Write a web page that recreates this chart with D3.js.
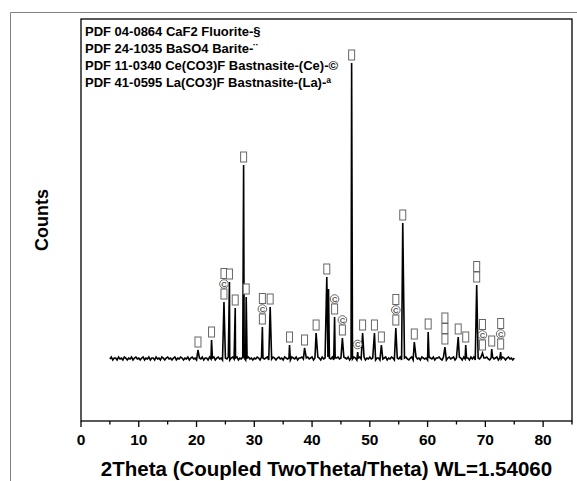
<!DOCTYPE html>
<html><head><meta charset="utf-8">
<script src="https://cdn.jsdelivr.net/npm/d3@7"></script>
<style>body{margin:0;background:#fff}svg{display:block;font-family:"Liberation Sans",Arial,sans-serif}</style>
</head><body><svg id="c" width="577" height="481"></svg>
<script>
// ---- data ----
const xStart = 5, xStep = 0.25;
const noise = [
62,64,61,63,63,61,64,62,63,61,64,63,61,63,62,64,61,63,64,62,
63,61,63,64,61,63,62,64,61,63,63,61,64,62,63,61,64,63,61,63,
64,62,63,61,63,64,61,63,62,64,63,61,63,62,64,61,63,64,62,63,
61,64,63,62,64,61,63,63,61,64,62,63,64,61,63,64,62,63,61,64,
63,62,64,61,63,64,62,63,64,61,63,62,64,63,61,63,64,62,63,61,
63,62,64,63,61,64,63,62,63,64,61,63,62,64,63,61,63,64,62,63,
61,64,63,62,63,61,64,63,62,64,61,63,63,64,62,61,63,64,62,63,
64,61,63,62,64,63,61,64,62,63,61,64,63,62,64,61,63,63,64,62,
63,61,64,63,62,64,61,63,62,64,63,61,63,64,62,63,64,61,63,62,
64,62,63,64,61,63,63,61,64,62,63,64,61,63,62,64,63,61,64,63,
62,64,61,63,63,64,62,61,63,64,61,63,64,62,63,61,64,63,62,63,
61,64,63,62,64,61,63,63,64,62,61,64,63,61,63,64,62,63,64,61,
63,62,64,63,61,64,62,63,63,61,64,62,64,61,63,63,62,64,61,63,
63,64,62,61,63,64,62,63,64,61,63,62,64,63,61,63,64,62,63,61,
63];
const peakPos    = [20.25,22.6,24.75,25.7,26.7,28.15,28.6,31.4,32.75,36.1,38.7,40.7,42.55,42.85,43.9,45.25,46.85,47.9,48.75,50.8,52.0,54.5,55.7,57.7,60.1,63.0,65.3,66.6,68.5,69.5,71.1,72.65];
const peakCounts = [71,81,119,139,113,256,124,94,114,76,73,88,144,132,104,83,358,69,88,88,76,93,198,79,89,74,84,76,136,68,72,69];
const peakMarks  = ["B","B","BCB","B","B","B","B","BCB","B","B","B","B","B","","BC","BC","B","C","B","B","B","BCB","B","B","B","BBB","B","B","BB","BCB","B","BCB"];
const legendLines = [
  "PDF 04-0864 CaF2 Fluorite-§",
  "PDF 24-1035 BaSO4 Barite-¨",
  "PDF 11-0340 Ce(CO3)F Bastnasite-(Ce)-©",
  "PDF 41-0595 La(CO3)F Bastnasite-(La)-ª"
];
const majorTicks = [0,10,20,30,40,50,60,70,80];
const minorTicks = [5,15,25,35,45,55,65,75,85];
const xTitle = "2Theta (Coupled TwoTheta/Theta) WL=1.54060";
const yTitle = "Counts";

// ---- chart ----
const svg = d3.select("#c");
const L = 81, R = 572, T = 19, B = 421;
const x = d3.scaleLinear().domain([0,85]).range([L,R]);
const y = d3.scaleLinear().domain([0,402]).range([B,T]);

// outer frame
svg.append("path").attr("d", `M10.5,481 V12.5 H577`).attr("fill","none").attr("stroke","#808080").attr("stroke-width",1);

// pattern points
const pts = noise.map((v,i)=>({x:xStart+i*xStep, y:v}))
  .filter(p => !peakPos.some(q => Math.abs(q-p.x) < 0.05));
peakPos.forEach((p,i)=>pts.push({x:p, y:peakCounts[i]}));
pts.sort((a,b)=>a.x-b.x);

svg.append("path").datum(pts)
  .attr("d", d3.line().x(d=>x(d.x)).y(d=>y(d.y)))
  .attr("fill","none").attr("stroke","#000").attr("stroke-width",1.6).attr("stroke-linejoin","miter");

// markers
const mg = svg.append("g");
peakPos.forEach((p,i)=>{
  let cur = y(peakCounts[i]) - 2.5;
  const cx = x(p);
  for (const ch of peakMarks[i]) {
    if (ch === "B") {
      mg.append("rect").attr("x", cx-3).attr("y", cur-10.5).attr("width",6).attr("height",10)
        .attr("fill","#fff").attr("stroke","#666").attr("stroke-width",1);
      cur -= 10.5;
    } else {
      mg.append("circle").attr("cx", cx).attr("cy", cur-5).attr("r",4.3)
        .attr("fill","#fff").attr("stroke","#666").attr("stroke-width",1);
      mg.append("text").attr("x", cx).attr("y", cur-5).attr("text-anchor","middle")
        .attr("dy","0.36em").attr("font-size",7.5).attr("font-weight","bold").attr("fill","#555").text("C");
      cur -= 10;
    }
  }
});

// plot box
svg.append("rect").attr("x",L).attr("y",T).attr("width",R-L).attr("height",B-T)
  .attr("fill","none").attr("stroke","#000").attr("stroke-width",1.3);

// ticks
const ax = svg.append("g");
majorTicks.forEach(t=>{
  ax.append("line").attr("x1",x(t)).attr("x2",x(t)).attr("y1",B).attr("y2",B+6).attr("stroke","#000").attr("stroke-width",1.3);
  ax.append("text").attr("x",x(t)).attr("y",445).attr("text-anchor","middle")
    .attr("font-size",15.5).attr("font-weight","bold").text(t);
});
minorTicks.forEach(t=>{
  ax.append("line").attr("x1",x(t)).attr("x2",x(t)).attr("y1",B).attr("y2",B+3.5).attr("stroke","#000").attr("stroke-width",1.3);
});

// titles
svg.append("text").attr("x",(L+R)/2).attr("y",476).attr("text-anchor","middle")
  .attr("font-size",20.5).attr("font-weight","bold").text(xTitle);
svg.append("text").attr("transform",`translate(48,${(T+B)/2}) rotate(-90)`).attr("text-anchor","middle")
  .attr("font-size",18).attr("font-weight","bold").text(yTitle);

// legend
legendLines.forEach((s,i)=>{
  svg.append("text").attr("x",85).attr("y",36+i*17)
    .attr("font-size",13).attr("font-weight","bold").text(s);
});
</script></body></html>
